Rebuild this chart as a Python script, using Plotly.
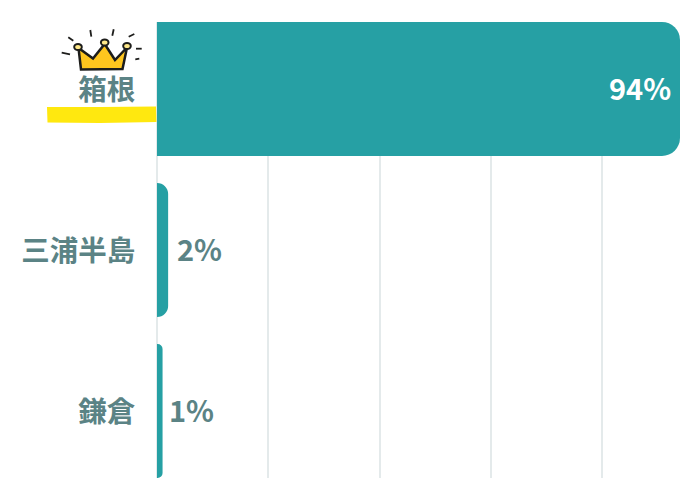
import plotly.graph_objects as go

# data
places = ["箱根", "三浦半島", "鎌倉"]
shares = [94, 2, 1]
grid_ticks = [0, 20, 40, 60, 80]

BAR = "#26a0a4"
LABEL = "#5b8385"
GRID = "#e4eaeb"
FONT = "Noto Sans CJK JP"

W, H = 695, 500
L, R, T, B = 157, 15, 22, 22

# nudges for the value labels, the 1 glyph has more side bearing
label_shift = {94: -7, 2: 7, 1: 4}


# pixel position on the page -> paper coords, for the crown doodle
def px(x):
    return (x - L) / (W - L - R)


def py(y):
    return 1 - (y - T) / (H - T - B)


def path(points, close=True):
    d = "M " + " L ".join(f"{px(x):.5f},{py(y):.5f}" for x, y in points)
    return d + (" Z" if close else "")


def paper_shape(**kw):
    return dict(xref="paper", yref="paper", layer="above", **kw)


fig = go.Figure()

fig.add_trace(
    go.Bar(
        x=shares,
        y=places,
        orientation="h",
        marker=dict(color=BAR, line=dict(width=0)),
        width=0.832,
        hoverinfo="skip",
    )
)

# value labels
for place, share in zip(places, shares):
    big = share > 50
    fig.add_annotation(
        x=share,
        y=place,
        text=f"{share}%",
        showarrow=False,
        xanchor="right" if big else "left",
        xshift=label_shift[share],
        yshift=2,
        font=dict(family=FONT, size=29, color="white" if big else LABEL, weight=700),
    )

shapes = []

# yellow marker stroke under the winner
shapes.append(paper_shape(
    type="path",
    path=path([(47, 107), (100, 107), (156, 106.5), (156.5, 122), (100, 123), (47.5, 122.5)]),
    fillcolor="#ffe80f",
    line=dict(width=0),
))

# crown
shapes.append(paper_shape(
    type="path",
    path=path([(81, 69.5), (78.5, 48), (93, 58.5), (104.7, 44), (115, 60), (127, 47.5), (122.5, 69)]),
    fillcolor="#ffc61e",
    line=dict(color="#1d1d1b", width=2.5),
))
for cx, cy in [(78, 47), (104.7, 42.5), (127, 46)]:
    shapes.append(paper_shape(
        type="circle",
        x0=px(cx - 3.8), x1=px(cx + 3.8), y0=py(cy + 3), y1=py(cy - 3),
        fillcolor="#ffe98a",
        line=dict(color="#1d1d1b", width=2),
    ))
rays = [
    [(68.3, 37.3), (73.3, 40.7)],
    [(90.3, 30), (91.3, 36.7)],
    [(113.7, 29.3), (112.3, 35.7)],
    [(134.3, 34), (128.7, 36.7)],
    [(136, 48.7), (141.7, 48.7)],
    [(135.3, 59.3), (139.3, 58.7)],
    [(61.7, 52.7), (70, 54.3)],
]
for ray in rays:
    shapes.append(paper_shape(
        type="path",
        path=path(ray, close=False),
        line=dict(color="#1d1d1b", width=1.8),
    ))

fig.update_layout(
    width=W,
    height=H,
    margin=dict(l=L, r=R, t=T, b=B, pad=0),
    paper_bgcolor="white",
    plot_bgcolor="white",
    showlegend=False,
    barcornerradius=18,
    shapes=shapes,
    xaxis=dict(
        range=[0, 94],
        tickvals=grid_ticks,
        showticklabels=False,
        showgrid=True,
        gridcolor=GRID,
        gridwidth=1.5,
        zeroline=True,
        zerolinecolor=GRID,
        zerolinewidth=1.5,
        fixedrange=True,
    ),
    yaxis=dict(
        range=[2.416, -0.416],
        tickmode="array",
        tickvals=places,
        ticktext=places,
        ticks="outside",
        ticklen=15,
        tickcolor="rgba(0,0,0,0)",
        ticklabelshift=-1,
        showgrid=False,
        showline=False,
        zeroline=False,
        tickfont=dict(family=FONT, size=28.5, color=LABEL, weight=700),
        fixedrange=True,
    ),
)

fig.write_html("out.html", config={"displayModeBar": False}, post_script="document.body.style.margin='0';")
